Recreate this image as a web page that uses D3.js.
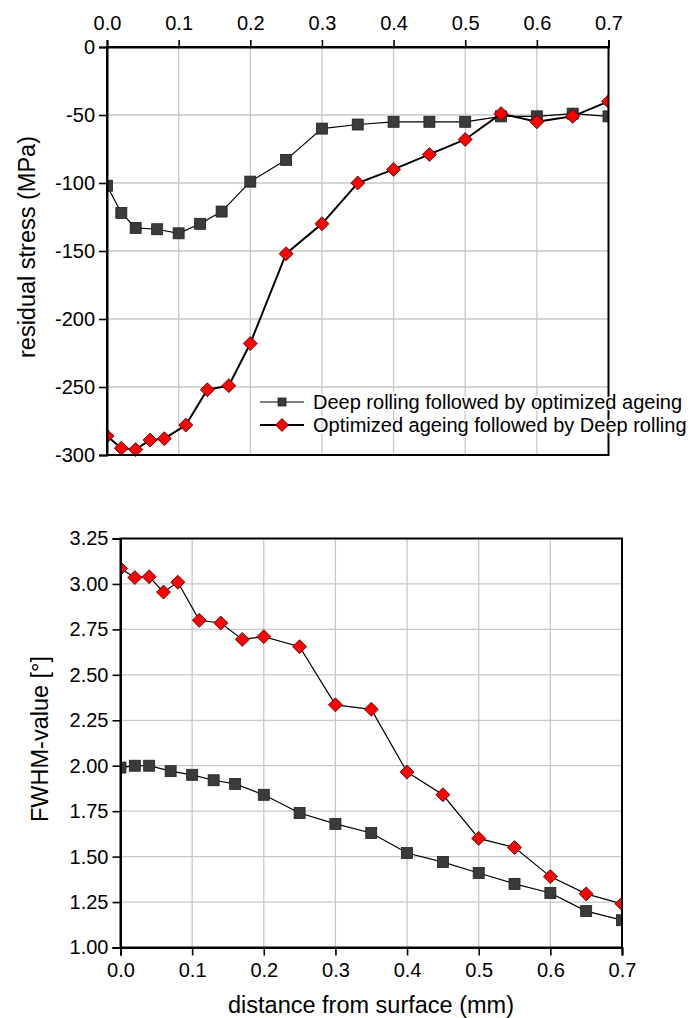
<!DOCTYPE html>
<html>
<head>
<meta charset="utf-8">
<script src="https://cdn.jsdelivr.net/npm/d3@7"></script>
<style>
  html, body { margin: 0; padding: 0; background: #fff; }
  svg { display: block; }
  text { font-family: Arial, "Liberation Sans", Helvetica, sans-serif; fill: #000; }
</style>
</head>
<body>
<svg id="chart" width="694" height="1018"></svg>
<script>
// ---------- DATA ----------
const seriesNames = ["Deep rolling followed by optimized ageing", "Optimized ageing followed by Deep rolling"];

// Top chart: residual stress (MPa)
const stressDistA = [0, 0.02, 0.04, 0.07, 0.10, 0.13, 0.16, 0.20, 0.25, 0.30, 0.35, 0.40, 0.45, 0.50, 0.55, 0.60, 0.65, 0.70];
const stressA     = [-102, -122, -133, -134, -137, -130, -121, -99, -83, -60, -57, -55, -55, -55, -51, -51, -49, -51];
const stressDistB = [0, 0.02, 0.04, 0.06, 0.08, 0.11, 0.14, 0.17, 0.20, 0.25, 0.30, 0.35, 0.40, 0.45, 0.50, 0.55, 0.60, 0.65, 0.70];
const stressB     = [-286, -295, -296, -289, -288, -278, -252, -249, -218, -152, -130, -100, -90, -79, -68, -49, -55, -51, -40];

// Bottom chart: FWHM-value (deg)
const fwhmDistA = [0, 0.02, 0.04, 0.07, 0.10, 0.13, 0.16, 0.20, 0.25, 0.30, 0.35, 0.40, 0.45, 0.50, 0.55, 0.60, 0.65, 0.70];
const fwhmA     = [1.99, 2.00, 2.00, 1.97, 1.95, 1.92, 1.90, 1.84, 1.74, 1.68, 1.63, 1.52, 1.47, 1.41, 1.35, 1.30, 1.20, 1.15];
const fwhmDistB = [0, 0.02, 0.04, 0.06, 0.08, 0.11, 0.14, 0.17, 0.20, 0.25, 0.30, 0.35, 0.40, 0.45, 0.50, 0.55, 0.60, 0.65, 0.70];
const fwhmB     = [3.085, 3.035, 3.04, 2.955, 3.01, 2.80, 2.785, 2.695, 2.71, 2.655, 2.335, 2.31, 1.965, 1.84, 1.60, 1.55, 1.39, 1.295, 1.24];

const xTicks = [0, 0.1, 0.2, 0.3, 0.4, 0.5, 0.6, 0.7];
const stressTicks = [0, -50, -100, -150, -200, -250, -300];
const fwhmTicks = [1.00, 1.25, 1.50, 1.75, 2.00, 2.25, 2.50, 2.75, 3.00, 3.25];

const xTitle = "distance from surface (mm)";
const stressTitle = "residual stress (MPa)";
const fwhmTitle = "FWHM-value [°]";

// ---------- DRAW ----------
const svg = d3.select("#chart");
const GRID = "#c8c8c8";
const SQ_FILL = "#3b3b3b";
const RED = "#ff0000";

function zip(xs, ys) { return xs.map((x, i) => ({x: x, y: ys[i]})); }

function panel(opts) {
  const {left, right, top, bottom, yDomain, yTicks, yFmt, xAxisTop, series, yTitle, yTitleX, clipId} = opts;
  const x = d3.scaleLinear().domain([0, 0.7]).range([left, right]);
  const y = d3.scaleLinear().domain(yDomain).range([bottom, top]);
  const g = svg.append("g");

  // grid
  g.append("g").selectAll("line.v").data(xTicks.slice(1, -1)).join("line")
    .attr("x1", d => x(d)).attr("x2", d => x(d)).attr("y1", top).attr("y2", bottom)
    .attr("stroke", GRID).attr("stroke-width", 1.3);
  const yInner = yTicks.filter(t => t !== yDomain[0] && t !== yDomain[1]);
  g.append("g").selectAll("line.h").data(yInner).join("line")
    .attr("x1", left).attr("x2", right).attr("y1", d => y(d)).attr("y2", d => y(d))
    .attr("stroke", GRID).attr("stroke-width", 1.3);

  // clip
  svg.append("defs").append("clipPath").attr("id", clipId)
    .append("rect").attr("x", left).attr("y", top - 20).attr("width", right - left).attr("height", bottom - top + 40);

  const plot = g.append("g").attr("clip-path", `url(#${clipId})`);
  const line = d3.line().x(d => x(d.x)).y(d => y(d.y));
  series.forEach(s => {
    plot.append("path").datum(s.data).attr("d", line)
      .attr("fill", "none").attr("stroke", "#000").attr("stroke-width", s.lw);
    if (s.shape === "square") {
      plot.append("g").selectAll("rect").data(s.data).join("rect")
        .attr("x", d => x(d.x) - 5.5).attr("y", d => y(d.y) - 5.5)
        .attr("width", 11).attr("height", 11)
        .attr("fill", SQ_FILL).attr("stroke", "#1e1e1e").attr("stroke-width", 0.8);
    } else {
      plot.append("g").selectAll("path.dia").data(s.data).join("path")
        .attr("d", d => { const cx = x(d.x), cy = y(d.y), r = 7; return `M${cx},${cy-r}L${cx+r},${cy}L${cx},${cy+r}L${cx-r},${cy}Z`; })
        .attr("fill", RED).attr("stroke", "#3a0000").attr("stroke-width", 0.8);
    }
  });

  // border
  g.append("rect").attr("x", left).attr("y", top).attr("width", right - left).attr("height", bottom - top)
    .attr("fill", "none").attr("stroke", "#000").attr("stroke-width", 2);

  // axes
  const fx = d3.format(".1f");
  const xAxis = (xAxisTop ? d3.axisTop(x).tickSize(7).tickPadding(10) : d3.axisBottom(x).tickSize(8).tickPadding(7))
    .tickValues(xTicks).tickFormat(fx);
  const xg = g.append("g").attr("transform", `translate(0,${xAxisTop ? top : bottom})`).call(xAxis);
  const yAxis = d3.axisLeft(y).tickValues(yTicks).tickFormat(yFmt).tickSize(8).tickPadding(4);
  const yg = g.append("g").attr("transform", `translate(${left},0)`).call(yAxis);
  [xg, yg].forEach(a => {
    a.select(".domain").attr("stroke", "#000").attr("stroke-width", 2);
    a.selectAll(".tick line").attr("stroke", "#000").attr("stroke-width", 1.6);
    a.selectAll(".tick text").attr("font-size", 20).attr("fill", "#000")
      .attr("font-family", 'Arial, "Liberation Sans", sans-serif');
  });

  // y title
  g.append("text")
    .attr("transform", `translate(${yTitleX},${(top + bottom) / 2 - 4}) rotate(-90)`)
    .attr("text-anchor", "middle").attr("font-size", 23.5).text(yTitle);

  return {x, y, g};
}

const topPanel = panel({
  left: 107, right: 608.5, top: 47, bottom: 455,
  yDomain: [-300, 0], yTicks: stressTicks, yFmt: d => String(d),
  xAxisTop: true, yTitle: stressTitle, yTitleX: 35, clipId: "clipTop",
  series: [
    {data: zip(stressDistA, stressA), shape: "square", lw: 1.2},
    {data: zip(stressDistB, stressB), shape: "diamond", lw: 2}
  ]
});

const botPanel = panel({
  left: 120.5, right: 622, top: 538.5, bottom: 947.5,
  yDomain: [1, 3.25], yTicks: fwhmTicks, yFmt: d3.format(".2f"),
  xAxisTop: false, yTitle: fwhmTitle, yTitleX: 48, clipId: "clipBot",
  series: [
    {data: zip(fwhmDistA, fwhmA), shape: "square", lw: 1.2},
    {data: zip(fwhmDistB, fwhmB), shape: "diamond", lw: 1.2}
  ]
});

// x title
svg.append("text").attr("x", 371).attr("y", 1013).attr("text-anchor", "middle")
  .attr("font-size", 23.5).text(xTitle);

// legend (top panel)
const leg = svg.append("g");
const legRows = [
  {y: 402, shape: "square", lw: 1.2, name: seriesNames[0]},
  {y: 425, shape: "diamond", lw: 2, name: seriesNames[1]}
];
legRows.forEach(r => {
  leg.append("line").attr("x1", 260).attr("x2", 304).attr("y1", r.y).attr("y2", r.y)
    .attr("stroke", "#000").attr("stroke-width", r.lw);
  if (r.shape === "square") {
    leg.append("rect").attr("x", 282 - 4).attr("y", r.y - 4).attr("width", 8).attr("height", 8)
      .attr("fill", SQ_FILL).attr("stroke", "#1e1e1e").attr("stroke-width", 0.8);
  } else {
    const cx = 282, cy = r.y, rr = 6.5;
    leg.append("path").attr("d", `M${cx},${cy-rr}L${cx+rr},${cy}L${cx},${cy+rr}L${cx-rr},${cy}Z`)
      .attr("fill", RED).attr("stroke", "#3a0000").attr("stroke-width", 0.8);
  }
  leg.append("text").attr("x", 313).attr("y", r.y + 7).attr("font-size", 20)
    .attr("stroke", "#fff").attr("stroke-width", 3).attr("paint-order", "stroke")
    .text(r.name);
});
</script>
</body>
</html>
